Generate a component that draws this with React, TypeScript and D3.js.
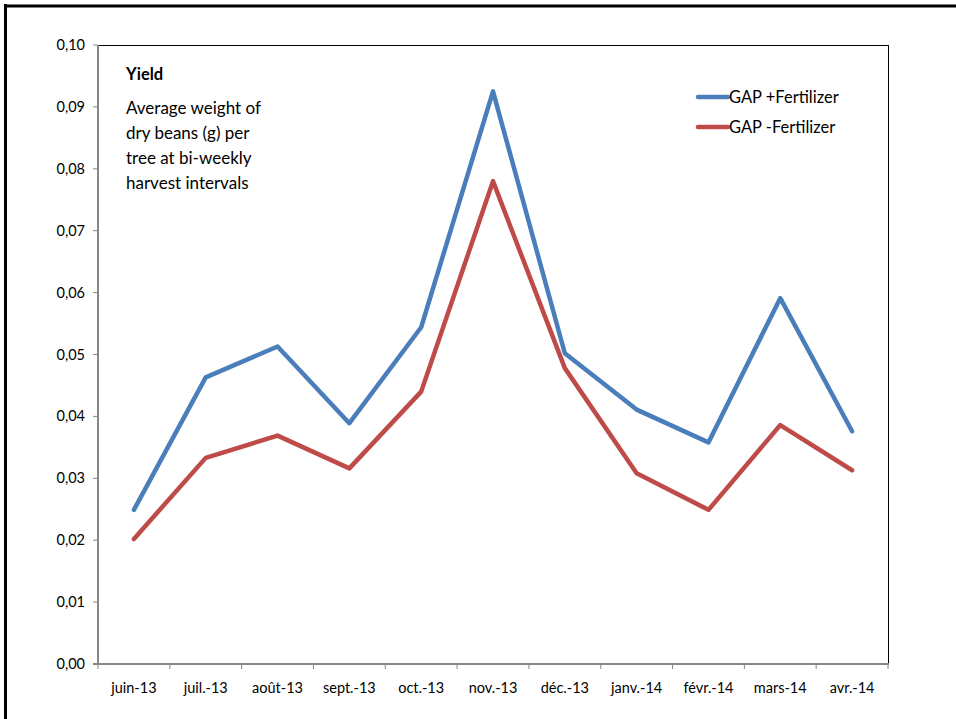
import React from "react";
import * as d3 from "d3";

const categories = ["juin-13", "juil.-13", "août-13", "sept.-13", "oct.-13", "nov.-13", "déc.-13", "janv.-14", "févr.-14", "mars-14", "avr.-14"];
const withFertilizer = [0.0249, 0.0463, 0.0513, 0.0389, 0.0544, 0.0925, 0.0502, 0.0411, 0.0358, 0.0591, 0.0376];
const withoutFertilizer = [0.0202, 0.0333, 0.0369, 0.0316, 0.044, 0.078, 0.0478, 0.0308, 0.0249, 0.0386, 0.0313];
const yTicks = [0, 0.01, 0.02, 0.03, 0.04, 0.05, 0.06, 0.07, 0.08, 0.09, 0.1];
const seriesNames = ["GAP +Fertilizer", "GAP -Fertilizer"];
const descLines = ["Average weight of", "dry beans (g) per", "tree at bi-weekly", "harvest intervals"];

const W = 956, H = 719;
const L = 98, R = 888, T = 45, B = 664;
const FONT = "Lato, 'Open Sans', sans-serif";

export default function App() {
  const x = d3.scaleBand<string>().domain(categories).range([L, R]);
  const y = d3.scaleLinear().domain([0, 0.1]).range([B, T]);
  const line = d3.line<number>()
    .x((_, i) => (x(categories[i]) as number) + x.bandwidth() / 2)
    .y((d) => y(d));
  const colors = ["#4A7EBB", "#BE4B48"];
  const fmt = (v: number) => v.toFixed(2).replace(".", ",");
  const xTickPos = categories.map((c) => x(c) as number).concat([R]);

  return (
    <svg width={W} height={H} style={{ position: "absolute", left: 0, top: 0, background: "#fff" }} fontFamily={FONT}>
      <rect x={0} y={0} width={W} height={H} fill="#fff" />
      {/* outer frame */}
      <line x1={5.5} y1={4} x2={5.5} y2={H} stroke="#000" strokeWidth={3} />
      <line x1={4} y1={6} x2={W} y2={6} stroke="#000" strokeWidth={3} />
      {/* plot border top/right */}
      <line x1={L} y1={T + 0.5} x2={R + 0.5} y2={T + 0.5} stroke="#000" strokeWidth={1} />
      <line x1={R + 0.5} y1={T} x2={R + 0.5} y2={B} stroke="#000" strokeWidth={1} />
      {/* y axis */}
      <line x1={L} y1={T} x2={L} y2={B + 1} stroke="#868686" strokeWidth={2} />
      {yTicks.map((t) => (
        <g key={t}>
          <line x1={L - 5} x2={L} y1={y(t)} y2={y(t)} stroke="#868686" strokeWidth={1} />
          <text x={85} y={y(t)} dy="0.35em" textAnchor="end" fontSize={14.5} fill="#000">{fmt(t)}</text>
        </g>
      ))}
      {/* x axis */}
      <line x1={L - 5} x2={R + 1} y1={B} y2={B} stroke="#868686" strokeWidth={2} />
      {xTickPos.map((p, i) => (
        <line key={i} x1={p} x2={p} y1={B} y2={B + 5} stroke="#868686" strokeWidth={1} />
      ))}
      {categories.map((c) => (
        <text key={c} x={(x(c) as number) + x.bandwidth() / 2} y={693} textAnchor="middle" fontSize={14.5} fill="#000">{c}</text>
      ))}
      {/* lines */}
      {[withFertilizer, withoutFertilizer].map((s, i) => (
        <path key={i} d={line(s) || ""} fill="none" stroke={colors[i]} strokeWidth={4.5} strokeLinejoin="round" strokeLinecap="round" />
      ))}
      {/* description */}
      <text x={126} y={80} fontSize={16.5} fontWeight="bold" fill="#000">Yield</text>
      {descLines.map((t, i) => (
        <text key={t} x={126} y={114 + i * 25} fontSize={17} fill="#000">{t}</text>
      ))}
      {/* legend */}
      {seriesNames.map((n, i) => (
        <g key={n}>
          <line x1={698} x2={728} y1={97 + i * 30} y2={97 + i * 30} stroke={colors[i]} strokeWidth={4.5} strokeLinecap="round" />
          <text x={729} y={97 + i * 30} dy="0.35em" fontSize={16.5} fill="#000">{n}</text>
        </g>
      ))}
    </svg>
  );
}
